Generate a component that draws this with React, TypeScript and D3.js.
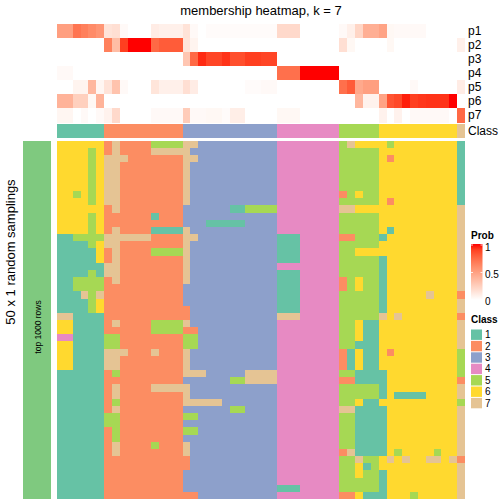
import React from "react";
import * as d3 from "d3";

const classLevels = ["1", "2", "3", "4", "5", "6", "7"];
const classColors = ["#66c2a5", "#fc8d62", "#8da0cb", "#e78ac3", "#a6d854", "#ffd92f", "#e5c494"];
const probNames = ["p1", "p2", "p3", "p4", "p5", "p6", "p7"];
const probTicks = [0, 0.5, 1];

const sampleClass = [
  1, 1, 1, 1, 1, 1,
  2, 2, 2, 2, 2, 2, 2, 2, 2, 2,
  3, 3, 3, 3, 3, 3, 3, 3, 3, 3, 3, 3,
  4, 4, 4, 4, 4, 4, 4, 4,
  5, 5, 5, 5, 5,
  6, 6, 6, 6, 6, 6, 6, 6, 6, 6,
  7,
];

const p1 = [0.5, 0.5, 0.7, 0.65, 0.6, 0.55, 0.15, 0.17, 0.03, 0, 0, 0, 0.1, 0.08, 0.08, 0.08, 0.15, 0.03, 0, 0.02, 0.02, 0.02, 0.02, 0.02, 0.02, 0.02, 0.02, 0.02, 0.2, 0.2, 0.2, 0, 0, 0, 0, 0, 0.03, 0.08, 0.22, 0.42, 0.42, 0.48, 0.04, 0.03, 0.03, 0.03, 0.03, 0, 0, 0, 0, 0];
const p2 = [0, 0, 0, 0, 0, 0, 0.65, 0.35, 0.9, 1, 1, 1, 0.75, 0.8, 0.8, 0.8, 0.14, 0.06, 0, 0, 0, 0, 0, 0, 0, 0, 0, 0, 0, 0, 0, 0, 0, 0, 0, 0, 0.17, 0.04, 0, 0, 0, 0, 0.04, 0, 0, 0, 0, 0, 0, 0, 0, 0.08];
const p3 = [0, 0, 0, 0, 0, 0, 0, 0, 0, 0, 0, 0, 0, 0, 0, 0, 0.3, 0.75, 0.95, 0.88, 0.88, 0.93, 0.85, 0.85, 0.9, 0.9, 0.88, 0.88, 0, 0, 0, 0, 0, 0, 0, 0, 0, 0, 0, 0, 0, 0, 0, 0, 0, 0, 0, 0, 0, 0, 0, 0];
const p4 = [0.03, 0.03, 0, 0, 0, 0, 0, 0, 0, 0, 0, 0, 0, 0, 0, 0, 0, 0, 0, 0, 0, 0, 0, 0, 0, 0, 0, 0, 0.72, 0.72, 0.72, 1, 1, 1, 1, 1, 0, 0, 0, 0, 0, 0, 0, 0, 0, 0, 0, 0, 0, 0, 0, 0];
const p5 = [0, 0, 0.06, 0.06, 0.38, 0.05, 0.15, 0.32, 0.03, 0, 0, 0, 0.14, 0.08, 0.08, 0.08, 0.17, 0.1, 0, 0, 0, 0, 0, 0, 0.02, 0.02, 0.03, 0.03, 0, 0, 0, 0, 0, 0, 0, 0, 0.72, 0.8, 0.45, 0.5, 0.5, 0, 0, 0, 0, 0.03, 0, 0, 0, 0, 0, 0.1];
const p6 = [0.4, 0.4, 0.25, 0.25, 0.04, 0.4, 0, 0, 0, 0, 0, 0, 0, 0, 0, 0, 0, 0, 0, 0, 0, 0, 0, 0, 0, 0, 0, 0, 0, 0, 0, 0, 0, 0, 0, 0, 0, 0, 0.38, 0.07, 0.07, 0.48, 0.83, 0.87, 0.97, 0.9, 0.92, 0.93, 0.93, 0.93, 1.0, 0];
const p7 = [0.05, 0.05, 0, 0.03, 0, 0.03, 0.07, 0.2, 0, 0, 0, 0, 0.03, 0.03, 0.03, 0.03, 0.27, 0.03, 0.03, 0.04, 0.04, 0.02, 0.09, 0.09, 0, 0, 0, 0, 0.04, 0.04, 0.04, 0, 0, 0, 0, 0, 0, 0, 0, 0, 0, 0.07, 0, 0.07, 0, 0.03, 0.03, 0.03, 0.03, 0.03, 0, 0.75];

// 50 random samplings (rows) x 52 samples (columns): class label per cell
const membership = [
  "666666 2722225555 773333333333 44444444 57666 6566666666 1",
  "666656 2722227777 733333333333 44444444 55555 6666666666 1",
  "666656 7772222222 773333333333 44444444 55555 6266666666 1",
  "666656 7722222222 733333333333 44444444 55555 6666666666 1",
  "666656 7722222222 733333333333 44444444 55555 6666666666 1",
  "666656 7722222222 733333333333 44444444 55555 6666666666 1",
  "666656 7722222222 733333333333 44444444 55555 6666666666 1",
  "665656 7722222222 733333333333 44444444 25655 6666666666 1",
  "666656 7722222222 733333333333 44444444 55555 6266666666 1",
  "666666 2722222222 333333115555 44444444 77666 6666666666 7",
  "666656 2222221222 333333333333 44444444 55555 6666666666 7",
  "666656 2222222222 333111113333 44444444 55555 6666666666 7",
  "666656 2722221111 733333333333 44444444 55555 6166666666 7",
  "115555 7777772222 773333333333 11144444 22555 1666666666 7",
  "111156 7722222222 733333333333 11144444 55555 6666666666 7",
  "111116 2722225555 733333333333 11144444 55666 6666666666 7",
  "111116 2722222222 733333333333 11144444 55555 1666666666 7",
  "111111 7722222222 733333333333 44444444 55555 1666666666 7",
  "111151 7722222222 733333333333 11144444 55555 1666666666 7",
  "115555 2722222222 733333333333 11144444 25655 1666666666 7",
  "115555 2222222222 333333333333 11144444 25655 1666666666 7",
  "111757 2222222222 333333333333 11144444 55555 1666667666 2",
  "111156 2222222222 333333333333 11144444 55555 1666666666 7",
  "111156 2222222222 233333333333 11144444 55555 1666666666 7",
  "771111 2222222222 233333333333 77744444 55555 7676666666 2",
  "661111 2722225555 733333333333 44444444 55611 6666666666 7",
  "661111 2222225555 223333333333 44444444 55611 6666666666 7",
  "441111 5522222222 553333333333 44444444 55611 6666666666 7",
  "661111 5522222222 553333333333 44444444 55111 6666666666 7",
  "661111 7772227222 733333333333 44444444 21611 6266666666 5",
  "661111 7722222222 733333333333 44444444 21611 6666666666 5",
  "661111 7722222222 733333333333 44444444 21611 6666666666 5",
  "111111 2522222222 777333337777 44444444 55111 1666666666 5",
  "111111 2222222222 333333557777 44444444 22111 1666666666 2",
  "111111 2722227777 733333333333 44444444 55555 1666666666 7",
  "111111 2722222222 733333333333 44444444 55555 1611116666 7",
  "111111 2522222222 777773333333 44444444 55611 6666666666 5",
  "111111 2722222222 333333553333 44444444 77111 1666666666 7",
  "111111 5522222222 553333333333 44444444 55111 1666666666 7",
  "111111 5522222222 333333333333 44444444 55111 1666666666 7",
  "111111 2522222222 553333333333 44444444 55111 1666666666 7",
  "111111 2522222222 333333333333 44444444 55111 1666666666 7",
  "111111 2722225222 733333333333 44444444 55111 1666666666 7",
  "111111 2722222222 733333333333 44444444 27111 1656666566 7",
  "111111 2222222222 233333333333 44444444 55755 6767667767 2",
  "111111 2222222222 233333333333 44444444 55615 6666666666 7",
  "111111 2222222222 333333333333 44444444 55655 1666666666 7",
  "111111 2222222222 333333333333 44444444 55555 1666666666 7",
  "111111 2222222222 333333333333 11144444 55555 1666666666 7",
  "111111 2222222222 223333333333 44444444 22611 1666566666 7",
];

const FONT = "'Liberation Sans', Arial, Helvetica, sans-serif";

export default function App() {
  const probRows = [p1, p2, p3, p4, p5, p6, p7];
  const grid = membership.map((r) => r.replace(/ /g, "").split("").map(Number));
  const nCol = sampleClass.length;

  const x = d3.scaleBand<number>().domain(d3.range(nCol)).range([57, 465]);
  const yRow = d3.scaleBand<number>().domain(d3.range(grid.length)).range([141, 499]);
  const yAnno = d3.scaleBand<string>().domain(probNames).range([24, 122.5]);
  const classY = [124, 138];
  const classColor = d3.scaleOrdinal<string, string>().domain(classLevels).range(classColors);
  const probColor = d3
    .scaleLinear<string>()
    .domain([0, 1])
    .range(["#ffffff", "#ff0000"])
    .interpolate(d3.interpolateLab);

  const legY = d3.scaleLinear().domain([0, 1]).range([300, 245]);
  const legLabelY = d3.scaleLinear().domain([0, 1]).range([301.5, 247]);
  const stops = d3.range(0, 1.0001, 0.1);

  const classLegY = d3.scaleBand<string>().domain(classLevels).range([329, 408.8]);

  return (
    <svg
      width={504}
      height={504}
      style={{ position: "absolute", left: 0, top: 0, display: "block", background: "#fff" }}
      fontFamily={FONT}
    >
      <defs>
        <linearGradient id="probGrad" x1="0" y1="1" x2="0" y2="0">
          {stops.map((s) => (
            <stop key={s} offset={`${s * 100}%`} stopColor={probColor(s)} />
          ))}
        </linearGradient>
      </defs>
      <rect x={0} y={0} width={504} height={504} fill="#fff" />

      <text x={261} y={15} textAnchor="middle" fontSize={13}>
        membership heatmap, k = 7
      </text>

      {/* probability annotation rows */}
      <g shapeRendering="crispEdges">
        {probRows.map((row, ri) =>
          row.map((v, ci) => (
            <rect
              key={`p${ri}-${ci}`}
              x={x(ci)}
              y={yAnno(probNames[ri])}
              width={x.bandwidth()}
              height={yAnno.bandwidth()}
              fill={probColor(v)}
            />
          ))
        )}
        {sampleClass.map((c, ci) => (
          <rect
            key={`c${ci}`}
            x={x(ci)}
            y={classY[0]}
            width={x.bandwidth()}
            height={classY[1] - classY[0]}
            fill={classColor(String(c))}
          />
        ))}
      </g>
      {probNames.map((n) => (
        <text key={n} x={468} y={(yAnno(n) as number) + yAnno.bandwidth() / 2} dominantBaseline="central" fontSize={12}>
          {n}
        </text>
      ))}
      <text x={468} y={(classY[0] + classY[1]) / 2} dominantBaseline="central" fontSize={12}>
        Class
      </text>

      {/* main membership heatmap */}
      <g shapeRendering="crispEdges">
        {grid.map((row, ri) =>
          row.map((c, ci) => (
            <rect
              key={`m${ri}-${ci}`}
              x={x(ci)}
              y={yRow(ri)}
              width={x.bandwidth()}
              height={yRow.bandwidth()}
              fill={classColor(String(c))}
            />
          ))
        )}
      </g>

      {/* left row-slice bar */}
      <rect x={22.7} y={141} width={28.3} height={358} fill="#7fc97f" shapeRendering="crispEdges" />
      <text transform="translate(41,327) rotate(-90)" textAnchor="middle" fontSize={8.5}>
        top 1000 rows
      </text>
      <text transform="translate(14.5,252) rotate(-90)" textAnchor="middle" fontSize={13}>
        50 x 1 random samplings
      </text>

      {/* Prob legend */}
      <text x={471} y={239} fontSize={10} fontWeight="bold">
        Prob
      </text>
      <rect x={471} y={legY(1) - 1} width={11.5} height={legY(0) - legY(1) + 1} fill="url(#probGrad)" />
      {probTicks.map((t) => (
        <g key={t}>
          <line x1={471} x2={473} y1={legY(t)} y2={legY(t)} stroke="#fff" strokeWidth={0.8} />
          <line x1={480.5} x2={482.5} y1={legY(t)} y2={legY(t)} stroke="#fff" strokeWidth={0.8} />
          <text x={485} y={legLabelY(t)} dominantBaseline="central" fontSize={10}>
            {String(t)}
          </text>
        </g>
      ))}

      {/* Class legend */}
      <text x={471} y={323} fontSize={10} fontWeight="bold">
        Class
      </text>
      {classLevels.map((c) => (
        <g key={c}>
          <rect
            x={471}
            y={(classLegY(c) as number) + 0.5}
            width={11}
            height={classLegY.bandwidth() - 1}
            fill={classColor(c)}
          />
          <text
            x={485}
            y={(classLegY(c) as number) + classLegY.bandwidth() / 2}
            dominantBaseline="central"
            fontSize={10}
          >
            {c}
          </text>
        </g>
      ))}
    </svg>
  );
}
